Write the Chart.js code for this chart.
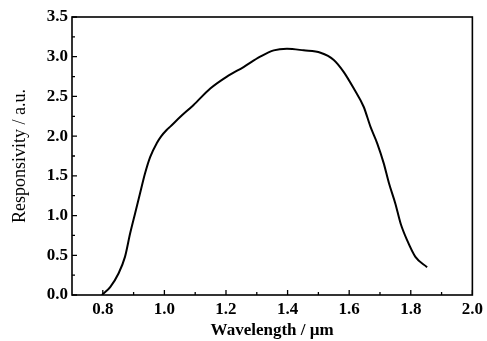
<!DOCTYPE html>
<html>
<head>
<meta charset="utf-8">
<script src="https://cdn.jsdelivr.net/npm/chart.js@4/dist/chart.umd.min.js"></script>
<style>
  html, body { margin: 0; padding: 0; background: #fff; }
  #wrap { width: 487px; height: 341px; }
</style>
</head>
<body>
<div id="wrap"><canvas id="myChart"></canvas></div>
<script>
// responsivity curve, values

const wavelength = [0.797, 0.824, 0.851, 0.872, 0.889, 0.905, 0.921, 0.937, 0.954, 0.975, 0.990,
  1.008, 1.019, 1.051, 1.094, 1.149, 1.203, 1.257, 1.311, 1.355, 1.398, 1.452, 1.507,
  1.550, 1.582, 1.615, 1.647, 1.669, 1.691, 1.712, 1.729, 1.750, 1.767, 1.788, 1.815, 1.853];
const responsivity = [0.00, 0.10, 0.27, 0.48, 0.78, 1.03, 1.28, 1.53, 1.74, 1.91, 2.00,
  2.08, 2.12, 2.24, 2.39, 2.60, 2.75, 2.87, 3.00, 3.08, 3.10, 3.08, 3.05,
  2.96, 2.81, 2.60, 2.37, 2.12, 1.91, 1.66, 1.41, 1.15, 0.90, 0.69, 0.48, 0.35];

const xTicks = [0.8, 1.0, 1.2, 1.4, 1.6, 1.8, 2.0];
const xMinor = [0.9, 1.1, 1.3, 1.5, 1.7, 1.9];
const yTicks = [0.0, 0.5, 1.0, 1.5, 2.0, 2.5, 3.0, 3.5];
const yMinor = [0.25, 0.75, 1.25, 1.75, 2.25, 2.75, 3.25];

const serif = "'Liberation Serif', 'DejaVu Serif', serif";

// frame + inward ticks
const framePlugin = {
  id: "frame",
  afterDraw(chart) {
    const ctx = chart.ctx;
    const a = chart.chartArea;
    const xs = chart.scales.x, ys = chart.scales.y;
    ctx.save();
    ctx.strokeStyle = "#000";
    ctx.lineWidth = 1.6;
    ctx.strokeRect(a.left, a.top, a.right - a.left, a.bottom - a.top);
    ctx.lineWidth = 1.3;
    ctx.beginPath();
    xTicks.forEach(v => { const p = xs.getPixelForValue(v); ctx.moveTo(p, a.bottom); ctx.lineTo(p, a.bottom - 5); });
    xMinor.forEach(v => { const p = xs.getPixelForValue(v); ctx.moveTo(p, a.bottom); ctx.lineTo(p, a.bottom - 3); });
    yTicks.forEach(v => { const p = ys.getPixelForValue(v); ctx.moveTo(a.left, p); ctx.lineTo(a.left + 5, p); });
    yMinor.forEach(v => { const p = ys.getPixelForValue(v); ctx.moveTo(a.left, p); ctx.lineTo(a.left + 3, p); });
    ctx.stroke();
    ctx.restore();
  }
};

const myChart = document.getElementById("myChart");

new Chart(myChart, {
  type: "line",
  data: {
    datasets: [{
      data: wavelength.map((w, i) => ({ x: w, y: responsivity[i] })),
      borderColor: "#000",
      borderWidth: 2,
      pointRadius: 0,
      cubicInterpolationMode: "monotone",
      fill: false
    }]
  },
  options: {
    responsive: true,
    maintainAspectRatio: false,
    animation: false,
    layout: { padding: { top: 17, right: 13, left: 0, bottom: 0 } },
    plugins: { legend: { display: false }, tooltip: { enabled: false } },
    scales: {
      x: {
        type: "linear",
        min: 0.7,
        max: 2.0,
        afterBuildTicks: s => { s.ticks = xTicks.map(v => ({ value: v })); },
        afterFit: s => { s.height = 46; },
        grid: { display: false, drawTicks: false },
        border: { display: false },
        ticks: {
          padding: 4,
          color: "#000",
          maxRotation: 0,
          autoSkip: false,
          font: { family: serif, size: 17, weight: "bold" },
          callback: v => v.toFixed(1)
        },
        title: {
          display: true,
          text: "Wavelength / µm",
          color: "#000",
          padding: { top: 0, bottom: 0 },
          font: { family: serif, size: 17, weight: "bold" }
        }
      },
      y: {
        min: 0,
        max: 3.5,
        afterBuildTicks: s => { s.ticks = yTicks.map(v => ({ value: v })); },
        afterFit: s => { s.width = 72; },
        grid: { display: false, drawTicks: false },
        border: { display: false },
        ticks: {
          padding: 4,
          color: "#000",
          autoSkip: false,
          font: { family: serif, size: 17, weight: "bold" },
          callback: v => v.toFixed(1)
        },
        title: {
          display: true,
          text: "Responsivity / a.u.",
          color: "#000",
          padding: { top: 9, bottom: 0 },
          font: { family: serif, size: 18 }
        }
      }
    }
  },
  plugins: [framePlugin]
});
</script>
</body>
</html>
